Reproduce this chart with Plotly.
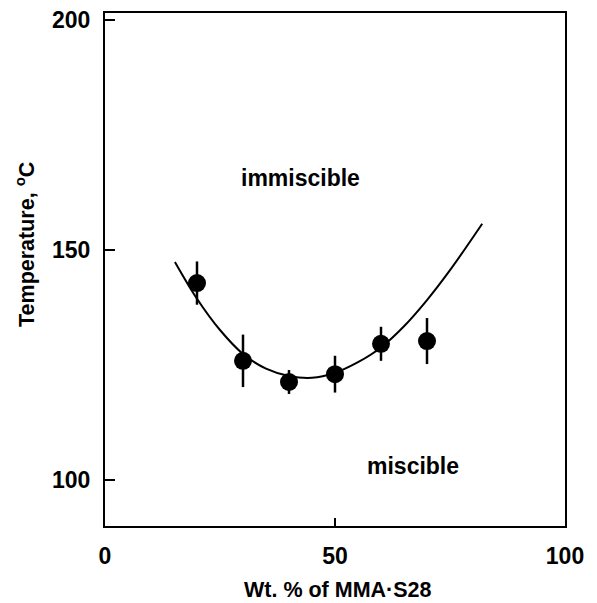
import plotly.graph_objects as go

# Data points (Wt. % of MMA-S28 vs cloud-point temperature)
wt_pct = [20, 30, 40, 50, 60, 70]
temp_c = [142.8, 125.9, 121.3, 123.0, 129.6, 130.2]
temp_err = [4.7, 5.7, 2.6, 4.0, 3.7, 5.0]

# Fitted curve, points
curve_x = [15.2, 20, 25, 30, 35, 40, 45, 50, 55, 60, 65, 70, 75, 82]
curve_y = [147.4, 139.4, 132.6, 127.4, 124.2, 122.6, 122.2, 123.3, 125.6, 128.8, 133.4, 139.1, 145.6, 155.7]

x_ticks = [0, 50, 100]
y_ticks = [100, 150, 200]

FONT = "Liberation Sans, Arial, Helvetica, sans-serif"
BFONT = dict(family=FONT, size=23, color="black", weight="bold")
TFONT = dict(family=FONT, size=21.5, color="black", weight="bold")

fig = go.Figure()
fig.add_trace(go.Scatter(
    x=curve_x, y=curve_y, mode="lines",
    line=dict(color="black", width=2, shape="spline", smoothing=1.0),
    hoverinfo="skip", showlegend=False,
))
fig.add_trace(go.Scatter(
    x=wt_pct, y=temp_c, mode="markers",
    marker=dict(color="black", size=18, symbol="circle"),
    error_y=dict(type="data", array=temp_err, visible=True, color="black", thickness=2.5, width=0),
    showlegend=False,
))

fig.add_annotation(x=42.6, y=165.7, text="immiscible", showarrow=False, font=BFONT)
fig.add_annotation(x=67, y=103.0, text="miscible", showarrow=False, font=BFONT)

# axis titles
fig.add_annotation(xref="paper", yref="paper", x=0.5065, y=-0.1248,
                   text="Wt. % of MMA·S28", showarrow=False, font=TFONT,
                   xanchor="center", yanchor="middle")
fig.add_annotation(xref="paper", yref="paper", x=-0.174, y=0.5497,
                   text="Temperature, <sup>o</sup>C", showarrow=False, font=TFONT,
                   textangle=-90, xanchor="center", yanchor="middle")

fig.update_xaxes(
    range=[0, 100], tickvals=x_ticks, ticktext=[str(v) for v in x_ticks],
    ticks="inside", ticklen=8, tickwidth=1.5, tickcolor="black",
    showline=True, linewidth=2, linecolor="black", mirror=True,
    showgrid=False, zeroline=False, ticklabelstandoff=8, automargin=False,
    ticklabeloverflow="allow", tickfont=BFONT,
)
fig.update_yaxes(
    range=[90, 201.5], tickvals=y_ticks, ticktext=[str(v) for v in y_ticks],
    ticks="inside", ticklen=10, tickwidth=1.5, tickcolor="black",
    showline=True, linewidth=2, linecolor="black", mirror=True,
    showgrid=False, zeroline=False, ticklabelstandoff=8, automargin=False,
    ticklabeloverflow="allow", tickfont=BFONT,
)

# page body adds an 8px offset; margins compensate for it
fig.update_layout(
    width=597, height=603,
    margin=dict(l=97, r=40, t=5, b=85),
    paper_bgcolor="white", plot_bgcolor="white",
    font=dict(family=FONT, color="black"),
)

fig.write_html("out.html")
